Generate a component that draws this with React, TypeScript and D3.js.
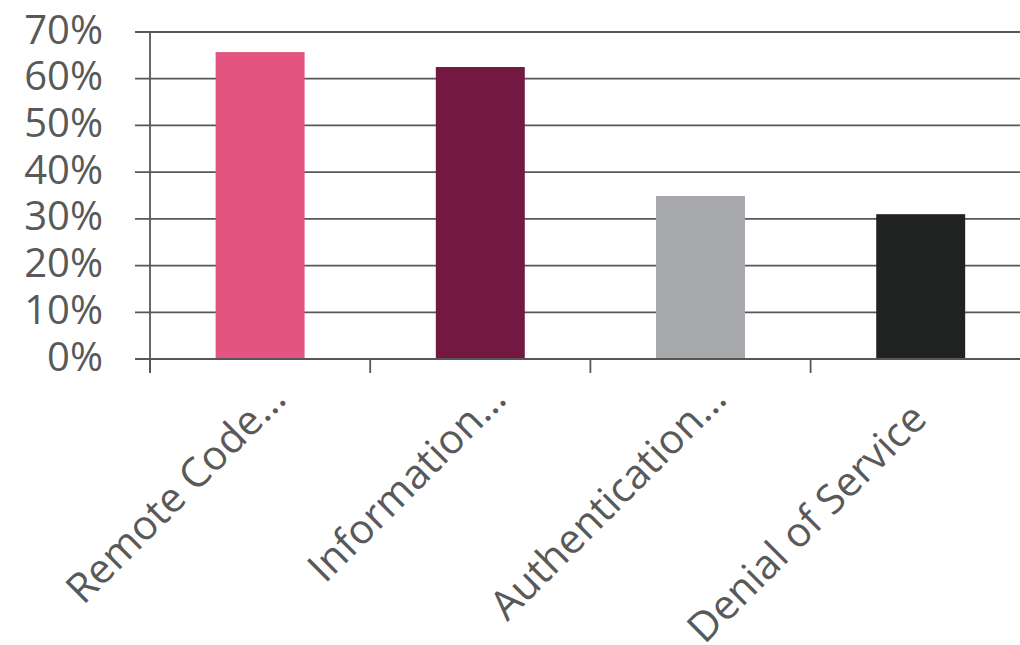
import React from "react";
import * as d3 from "d3";

const categories = ["Remote Code…", "Information…", "Authentication…", "Denial of Service"];
const values = [0.657, 0.625, 0.349, 0.31];
const colors = ["#E35480", "#721841", "#A7A8AC", "#212322"];
const yTicks = [0, 0.1, 0.2, 0.3, 0.4, 0.5, 0.6, 0.7];

const W = 1020;
const H = 645;
const x0 = 150;
const bandW = 220.2;
const yTop = 32;
const yBot = 359;
const textColor = "#595959";
const lineColor = "#575757";
const font = "'Open Sans', sans-serif";

export default function App() {
  const x = d3
    .scaleBand<string>()
    .domain(categories)
    .range([x0, x0 + bandW * categories.length])
    .paddingInner(0.596)
    .paddingOuter(0.298);
  const xTicks = d3
    .scalePoint<number>()
    .domain(d3.range(categories.length + 1))
    .range([x0, x0 + bandW * categories.length]);
  const y = d3.scaleLinear().domain([0, 0.7]).range([yBot, yTop]);
  const fmt = d3.format(".0%");

  return (
    <svg
      width={W}
      height={H}
      style={{ position: "absolute", left: 0, top: 0, background: "#fff" }}
    >
      {yTicks.map((t) => (
        <g key={t}>
          <line
            x1={135}
            x2={W}
            y1={y(t)}
            y2={y(t)}
            stroke={lineColor}
            strokeWidth={1.8}
          />
          <text
            x={103}
            y={y(t) + 11.5}
            textAnchor="end"
            fontFamily={font}
            fontSize={40}
            fill={textColor}
          >
            {fmt(t)}
          </text>
        </g>
      ))}
      {categories.map((c, i) => (
        <rect
          key={c}
          x={x(c)}
          y={y(values[i])}
          width={x.bandwidth()}
          height={yBot - y(values[i])}
          fill={colors[i]}
        />
      ))}
      <line x1={x0} x2={x0} y1={yTop} y2={373} stroke={lineColor} strokeWidth={1.8} />
      <line x1={x0} x2={W} y1={yBot} y2={yBot} stroke={lineColor} strokeWidth={2} />
      {xTicks.domain().map((d) => (
        <line
          key={d}
          x1={xTicks(d)}
          x2={xTicks(d)}
          y1={yBot}
          y2={373}
          stroke={lineColor}
          strokeWidth={1.8}
        />
      ))}
      {categories.map((c) => {
        const cx = (x(c) as number) + x.bandwidth() / 2;
        const back = c.endsWith("…") ? 0 : 20;
        return (
          <text
            key={c}
            transform={`translate(${cx + 28 - back},${401 + back}) rotate(-45)`}
            textAnchor="end"
            fontFamily={font}
            fontSize={41}
            fill={textColor}
          >
            {c}
          </text>
        );
      })}
    </svg>
  );
}
